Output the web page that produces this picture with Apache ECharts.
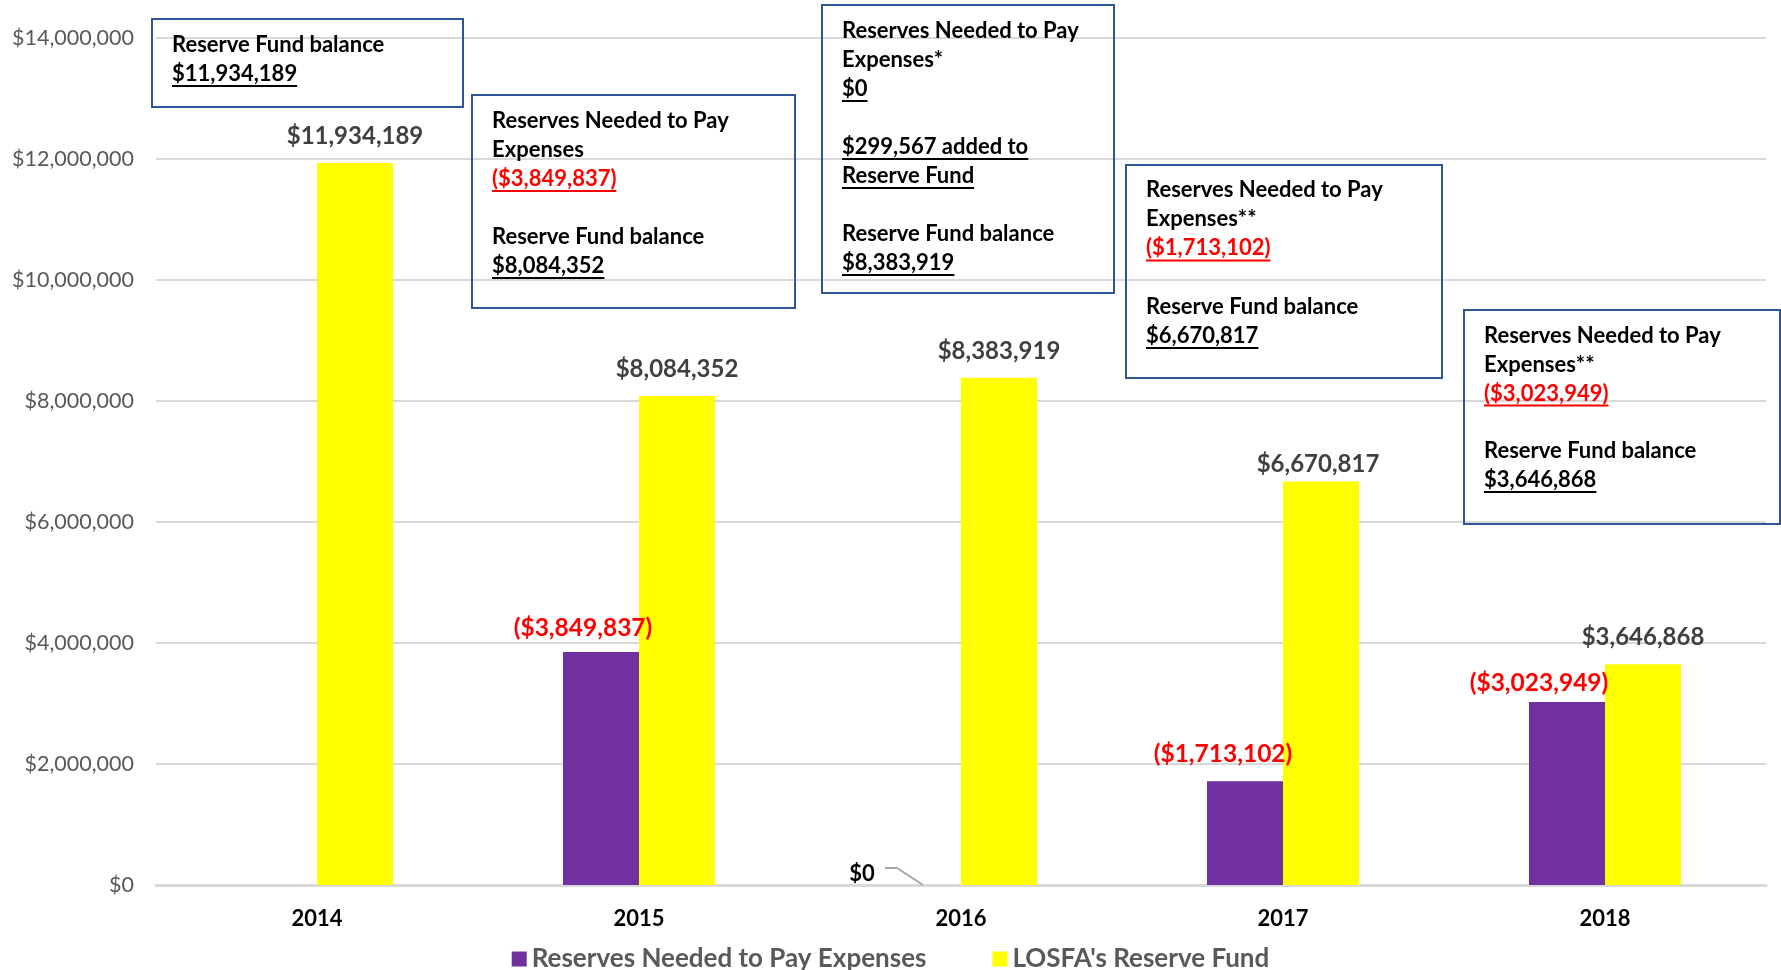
<!DOCTYPE html>
<html>
<head>
<meta charset="utf-8">
<script src="https://cdn.jsdelivr.net/npm/echarts@6/dist/echarts.min.js"></script>
<style>
html,body{margin:0;padding:0;background:#fff;}
#chart{width:1781px;height:970px;}
</style>
</head>
<body>
<div id="chart"></div>
<script>
// ---- data ----
const categories = ['2014', '2015', '2016', '2017', '2018'];
const reservesNeeded = [null, 3849837, 0, 1713102, 3023949];
const reserveFund = [11934189, 8084352, 8383919, 6670817, 3646868];
const seriesNames = ['Reserves Needed to Pay Expenses', "LOSFA's Reserve Fund"];
const yMin = 0, yMax = 14000000, yInterval = 2000000;

// annotation texts
const note2014 = [
  {t: 'Reserve Fund balance'},
  {t: '$11,934,189', u: true}
];
const note2015 = [
  {t: 'Reserves Needed to Pay'},
  {t: 'Expenses'},
  {t: '($3,849,837)', u: true, red: true},
  {t: ''},
  {t: 'Reserve Fund balance'},
  {t: '$8,084,352', u: true}
];
const note2016 = [
  {t: 'Reserves Needed to Pay'},
  {t: 'Expenses*'},
  {t: '$0', u: true},
  {t: ''},
  {t: '$299,567 added to', u: true},
  {t: 'Reserve Fund', u: true},
  {t: ''},
  {t: 'Reserve Fund balance'},
  {t: '$8,383,919', u: true}
];
const note2017 = [
  {t: 'Reserves Needed to Pay'},
  {t: 'Expenses**'},
  {t: '($1,713,102)', u: true, red: true},
  {t: ''},
  {t: 'Reserve Fund balance'},
  {t: '$6,670,817', u: true}
];
const note2018 = [
  {t: 'Reserves Needed to Pay'},
  {t: 'Expenses**'},
  {t: '($3,023,949)', u: true, red: true},
  {t: ''},
  {t: 'Reserve Fund balance'},
  {t: '$3,646,868', u: true}
];

// ---- styling / layout (not data) ----
const FONT = 'Lato, "Open Sans", sans-serif';
const BAR_W = 76;
const purpleLabelNudge = [[0, 0], [-18, 3], [-61, 14], [-22, -1], [-28, 8]];
const yellowLabelNudge = [[0, 0], [0, 0], [0, 0], [-3, 10], [0, 0]];
const boxes = [
  {x: 152, y: 19, w: 311, h: 88, tx: 172, ty: 45, lh: 29, lines: note2014},
  {x: 472, y: 95, w: 323, h: 213, tx: 492, ty: 121, lh: 29, lines: note2015},
  {x: 822, y: 5, w: 292, h: 288, tx: 842, ty: 31, lh: 29, lines: note2016},
  {x: 1126, y: 165, w: 316, h: 213, tx: 1146, ty: 190, lh: 29.2, lines: note2017},
  {x: 1464, y: 310, w: 316, h: 214, tx: 1484, ty: 336, lh: 28.8, lines: note2018}
];

function money(v) {
  return '$' + Math.round(v).toLocaleString('en-US');
}

const measureCtx = document.createElement('canvas').getContext('2d');
const noteFont = 'bold 22px ' + FONT;
function textW(s) {
  measureCtx.font = noteFont;
  return measureCtx.measureText(s).width;
}

const graphics = [];
boxes.forEach(function (b) {
  graphics.push({
    type: 'rect', z: 100,
    shape: {x: b.x, y: b.y, width: b.w, height: b.h},
    style: {fill: 'transparent', stroke: '#2F5597', lineWidth: 2}
  });
  b.lines.forEach(function (ln, i) {
    if (!ln.t) return;
    const y = b.ty + i * b.lh;
    const col = ln.red ? '#FF0000' : '#000000';
    graphics.push({
      type: 'text', z: 100,
      style: {
        x: b.tx, y: y, text: ln.t, fill: col,
        font: noteFont, textVerticalAlign: 'middle', textAlign: 'left'
      }
    });
    if (ln.u) {
      graphics.push({
        type: 'line', z: 100,
        shape: {x1: b.tx, y1: y + 12, x2: b.tx + textW(ln.t), y2: y + 12},
        style: {stroke: col, lineWidth: 2}
      });
    }
  });
});

const chart = echarts.init(document.getElementById('chart'));
chart.setOption({
  backgroundColor: '#ffffff',
  animation: false,
  grid: {left: 156, right: 15, top: 38, bottom: 85, containLabel: false},
  legend: {
    data: seriesNames,
    left: 'center', top: 941,
    itemWidth: 15, itemHeight: 15, itemGap: 66,
    icon: 'rect',
    textStyle: {color: '#595959', fontSize: 26, fontWeight: 'bold', fontFamily: FONT}
  },
  xAxis: {
    type: 'category', data: categories,
    axisTick: {show: false},
    axisLine: {lineStyle: {color: '#D9D9D9', width: 3}},
    axisLabel: {color: '#000', fontSize: 22, fontWeight: 'bold', fontFamily: FONT, margin: 23}
  },
  yAxis: {
    type: 'value', min: yMin, max: yMax, interval: yInterval,
    axisLine: {show: false}, axisTick: {show: false},
    splitLine: {lineStyle: {color: '#D9D9D9', width: 2}},
    axisLabel: {color: '#595959', fontSize: 21.5, fontFamily: FONT, margin: 22,
      formatter: function (v) { return money(v); }}
  },
  series: [
    {
      name: seriesNames[0], type: 'bar', barWidth: BAR_W, barGap: '0%',
      itemStyle: {color: '#7030A0'},
      data: reservesNeeded.map(function (v) {
        if (v === null) return {value: null};
        const zero = v === 0;
        return {
          value: v,
          label: {
            show: true,
            color: zero ? '#000000' : '#FF0000',
            fontSize: zero ? 22 : 24.5
          }
        };
      }),
      label: {
        show: true, position: 'top', distance: 14,
        fontWeight: 'bold', fontFamily: FONT,
        formatter: function (p) {
          if (p.value === 0) return '$0';
          return '(' + money(p.value) + ')';
        }
      },
      labelLine: {show: false},
      labelLayout: function (p) {
        const n = purpleLabelNudge[p.dataIndex];
        return {dx: n[0], dy: n[1]};
      },
      z: 2
    },
    {
      name: seriesNames[1], type: 'bar', barWidth: BAR_W, barGap: '0%',
      itemStyle: {color: '#FFFF00'},
      data: reserveFund,
      label: {
        show: true, position: 'top', distance: 15,
        color: '#404040', fontSize: 24, fontWeight: 'bold', fontFamily: FONT,
        formatter: function (p) { return money(p.value); }
      },
      labelLayout: function (p) {
        const n = yellowLabelNudge[p.dataIndex];
        return {dx: n[0], dy: n[1]};
      },
      z: 2
    }
  ],
  graphic: graphics
});

// leader line from the "$0" label to the zero-height 2016 bar, anchored via the axes
const zeroIdx = reservesNeeded.indexOf(0);
const pt = chart.convertToPixel({gridIndex: 0}, [zeroIdx, reservesNeeded[zeroIdx]]);
const bx = pt[0] - BAR_W / 2, by = pt[1];
graphics.push({
  type: 'polyline', z: 100,
  shape: {points: [[bx - 38, by - 17], [bx - 26, by - 17], [bx, by]]},
  style: {stroke: '#A6A6A6', lineWidth: 2, fill: null}
});
chart.setOption({graphic: graphics});
</script>
</body>
</html>
